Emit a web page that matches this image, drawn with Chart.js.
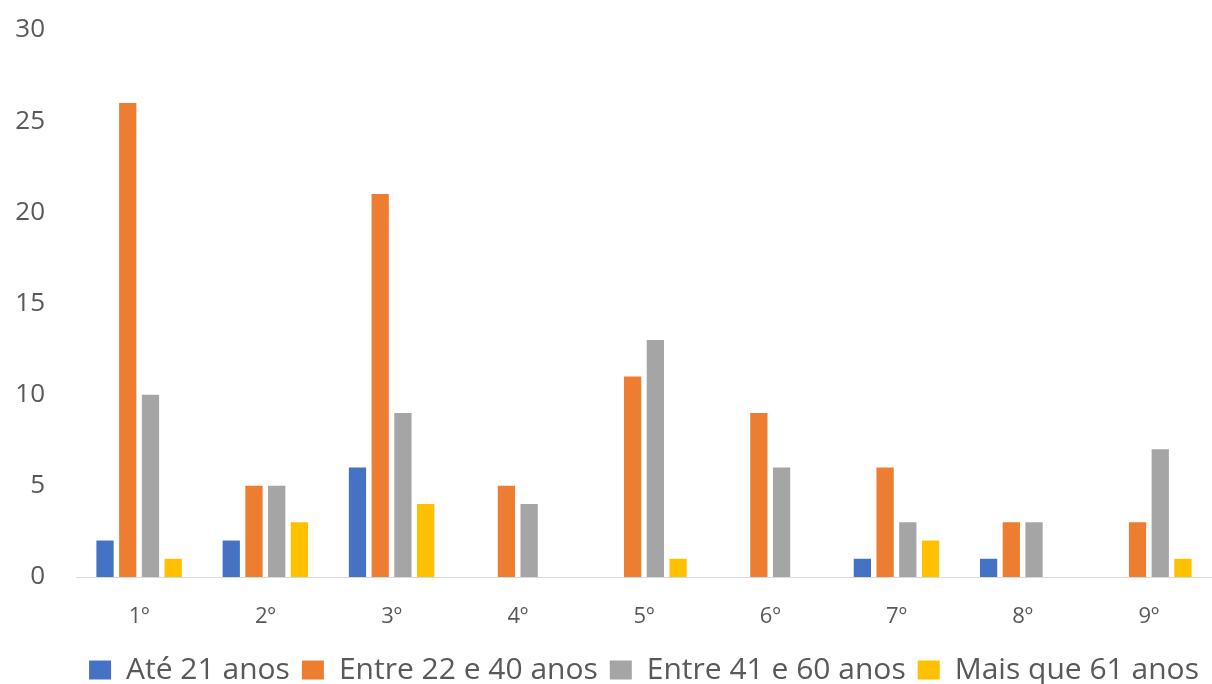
<!DOCTYPE html>
<html>
<head>
<meta charset="utf-8">
<script src="https://cdn.jsdelivr.net/npm/chart.js@4"></script>
<style>
  html, body { margin: 0; padding: 0; background: #ffffff; }
  #wrap { width: 1212px; height: 684px; }
</style>
</head>
<body>
<div id="wrap"><canvas id="c" width="1212" height="684"></canvas></div>
<script>
const categories = ['1º', '2º', '3º', '4º', '5º', '6º', '7º', '8º', '9º'];
const seriesNames = ['Até 21 anos', 'Entre 22 e 40 anos', 'Entre 41 e 60 anos', 'Mais que 61 anos'];
const ate21 = [2, 2, 6, 0, 0, 0, 1, 1, 0];
const entre22e40 = [26, 5, 21, 5, 11, 9, 6, 3, 3];
const entre41e60 = [10, 5, 9, 4, 13, 6, 3, 3, 7];
const maisQue61 = [1, 3, 4, 0, 1, 0, 2, 0, 1];
const yTicks = [0, 5, 10, 15, 20, 25, 30];

const colors = ['#4472C4', '#ED7D31', '#A5A5A5', '#FFC000'];
const fontFamily = '"Open Sans", "Liberation Sans", sans-serif';

const seriesValues = [ate21, entre22e40, entre41e60, maisQue61];

new Chart(document.getElementById('c'), {
  type: 'bar',
  data: {
    labels: categories,
    datasets: seriesValues.map((vals, i) => ({
      label: seriesNames[i],
      data: vals,
      backgroundColor: colors[i],
      borderWidth: 0,
      barPercentage: 0.76,
      categoryPercentage: 0.72
    }))
  },
  options: {
    responsive: false,
    animation: false,
    layout: { padding: { top: 30, right: 0, left: 0, bottom: -11 } },
    plugins: {
      tooltip: { enabled: false },
      legend: {
        position: 'bottom',
        fullSize: false,
        labels: {
          color: '#595959',
          font: { family: fontFamily, size: 30 },
          boxWidth: 22,
          boxHeight: 19,
          padding: 12
        }
      }
    },
    scales: {
      x: {
        grid: { display: false, drawTicks: false },
        border: { display: true, color: '#D9D9D9', width: 1 },
        ticks: {
          color: '#595959',
          font: { family: fontFamily, size: 22 },
          padding: 27
        },
        afterFit: (s) => { s.height = 66; }
      },
      y: {
        min: 0,
        max: 30,
        afterBuildTicks: (s) => { s.ticks = yTicks.map(v => ({ value: v })); },
        grid: { display: false, drawTicks: false },
        border: { display: false },
        ticks: {
          color: '#595959',
          font: { family: fontFamily, size: 26 },
          padding: 31
        },
        afterFit: (s) => { s.width = 76; s.paddingTop = 0; s.paddingBottom = 0; }
      }
    }
  }
});
</script>
</body>
</html>
